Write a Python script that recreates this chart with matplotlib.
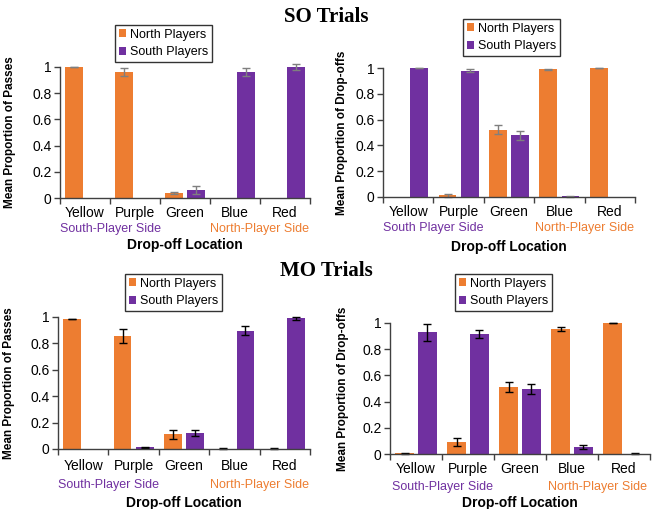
import matplotlib
matplotlib.use("Agg")
import matplotlib.pyplot as plt
import numpy as np
from matplotlib.ticker import FuncFormatter

plt.rcParams["font.family"] = ["Liberation Sans", "DejaVu Sans"]

W, H = 653, 509

locations = ["Yellow", "Purple", "Green", "Blue", "Red"]
series_names = ["North Players", "South Players"]

# SO trials, passes
so_pass_north = [1.0, 0.96, 0.035, 0.0, 0.0]
so_pass_north_err = [0.002, 0.03, 0.008, 0.0, 0.0]
so_pass_south = [0.0, 0.0, 0.06, 0.96, 1.0]
so_pass_south_err = [0.0, 0.0, 0.03, 0.03, 0.02]

# SO trials, drop-offs
so_drop_north = [0.0, 0.015, 0.52, 0.99, 1.0]
so_drop_north_err = [0.0, 0.012, 0.035, 0.006, 0.002]
so_drop_south = [1.0, 0.98, 0.48, 0.005, 0.0]
so_drop_south_err = [0.002, 0.01, 0.035, 0.005, 0.0]

# MO trials, passes
mo_pass_north = [0.985, 0.855, 0.11, 0.003, 0.003]
mo_pass_north_err = [0.002, 0.055, 0.032, 0.001, 0.001]
mo_pass_south = [0.0, 0.012, 0.12, 0.895, 0.99]
mo_pass_south_err = [0.0, 0.006, 0.022, 0.035, 0.01]

# MO trials, drop-offs
mo_drop_north = [0.005, 0.09, 0.51, 0.955, 1.0]
mo_drop_north_err = [0.002, 0.03, 0.037, 0.018, 0.002]
mo_drop_south = [0.93, 0.915, 0.495, 0.05, 0.003]
mo_drop_south_err = [0.065, 0.033, 0.04, 0.015, 0.001]

orange = "#ED7D31"
purple = "#7030A0"

# pixel boxes: left, right, y of 1, y of 0
panels = [
    dict(box=(60, 310, 67, 198), n=so_pass_north, ne=so_pass_north_err,
         s=so_pass_south, se=so_pass_south_err, ylabel="Mean Proportion of Passes",
         south="South-Player Side", ecol="#7f7f7f", leg=(115, 25), ylx=16,
         tick_dy=14, side_dy=31, xl_dy=47),
    dict(box=(383, 635, 68, 197), n=so_drop_north, ne=so_drop_north_err,
         s=so_drop_south, se=so_drop_south_err, ylabel="Mean Proportion of Drop-offs",
         south="South Player Side", ecol="#7f7f7f", leg=(463, 19), ylx=348,
         tick_dy=14, side_dy=31, xl_dy=50),
    dict(box=(58, 310, 317, 449), n=mo_pass_north, ne=mo_pass_north_err,
         s=mo_pass_south, se=mo_pass_south_err, ylabel="Mean Proportion of Passes",
         south="South-Player Side", ecol="black", leg=(125, 274), ylx=15,
         tick_dy=15, side_dy=36, xl_dy=54),
    dict(box=(390, 650, 323, 454), n=mo_drop_north, ne=mo_drop_north_err,
         s=mo_drop_south, se=mo_drop_south_err, ylabel="Mean Proportion of Drop-offs",
         south="South-Player Side", ecol="black", leg=(455, 274), ylx=349,
         tick_dy=14, side_dy=33, xl_dy=49),
]

fig = plt.figure(figsize=(W / 100, H / 100), dpi=100)

x = np.arange(len(locations))
bw = 0.35
off = 0.22


def fmt_tick(v, _):
    if abs(v) < 1e-9:
        return "0"
    if abs(v - 1) < 1e-9:
        return "1"
    return f"{v:.1f}"


for p in panels:
    l, r, ytop, ybot = p["box"]
    ax = fig.add_axes([l / W, (H - ybot) / H, (r - l) / W, (ybot - ytop) / H])
    ax.bar(x - off, p["n"], bw, color=orange, label=series_names[0])
    ax.bar(x + off, p["s"], bw, color=purple, label=series_names[1])
    ekw = dict(fmt="none", ecolor=p["ecol"], elinewidth=1, capsize=3, capthick=1, clip_on=False)
    for xs, vals, errs in [(x - off, p["n"], p["ne"]), (x + off, p["s"], p["se"])]:
        errs = np.array(errs)
        keep = errs > 0
        ax.errorbar(xs[keep], np.array(vals)[keep], yerr=errs[keep], **ekw)

    ax.set_xlim(-0.5, len(locations) - 0.5)
    ax.set_ylim(0, 1)
    ax.set_yticks(np.arange(0, 1.01, 0.2))
    ax.yaxis.set_major_formatter(FuncFormatter(fmt_tick))
    ax.set_xticks(x)
    ax.set_xticklabels(locations, fontsize=10)
    ax.set_xticks(np.arange(-0.5, len(locations), 1.0), minor=True)
    ax.tick_params(axis="x", which="major", length=0, pad=p["tick_dy"] - 8)
    ax.tick_params(axis="x", which="minor", length=4, width=1, color="#404040", direction="out")
    ax.tick_params(axis="y", length=4, width=1, color="#404040", labelsize=10, pad=2)
    for sp in ["top", "right"]:
        ax.spines[sp].set_visible(False)
    for sp in ["left", "bottom"]:
        ax.spines[sp].set_color("#404040")
        ax.spines[sp].set_linewidth(1)

    ax.set_ylabel(p["ylabel"], fontsize=8.5, fontweight="bold")
    ax.yaxis.set_label_coords((p["ylx"] - l) / (r - l), 0.5)

    ax.annotate(p["south"], xy=(0.5, 0), xycoords=("data", "axes fraction"),
                xytext=(0, -p["side_dy"]), textcoords="offset pixels",
                ha="center", va="center", fontsize=9, color=purple)
    ax.annotate("North-Player Side", xy=(3.5, 0), xycoords=("data", "axes fraction"),
                xytext=(0, -p["side_dy"]), textcoords="offset pixels",
                ha="center", va="center", fontsize=9, color=orange)
    ax.annotate("Drop-off Location", xy=(0.5, 0), xycoords="axes fraction",
                xytext=(0, -p["xl_dy"]), textcoords="offset pixels",
                ha="center", va="center", fontsize=10, fontweight="bold")

    lx, ly = p["leg"]
    leg = ax.legend(loc="upper left", bbox_to_anchor=(lx / W, 1 - ly / H),
                    bbox_transform=fig.transFigure, fontsize=9, frameon=True,
                    fancybox=False, edgecolor="black", handlelength=0.6,
                    handleheight=0.6, handletextpad=0.3, borderpad=0.3,
                    labelspacing=0.45, borderaxespad=0)
    leg.get_frame().set_linewidth(1)

fig.text(326 / W, 1 - 17 / H, "SO Trials", ha="center", va="center",
         fontsize=15, fontweight="bold", family=["Liberation Serif", "DejaVu Serif"])
fig.text(326 / W, 1 - 271 / H, "MO Trials", ha="center", va="center",
         fontsize=15, fontweight="bold", family=["Liberation Serif", "DejaVu Serif"])

fig.savefig("out.png", dpi=100)
